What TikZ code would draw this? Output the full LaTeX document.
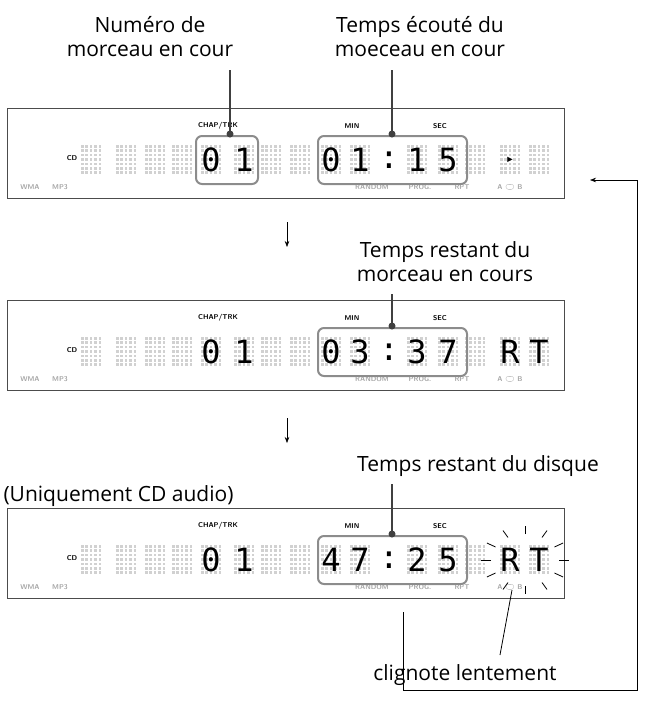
\documentclass[tikz,border=0pt]{standalone}
\usepackage{fontspec}
\setmainfont{Open Sans}
\newfontfamily\lcdfont{DejaVu Sans Mono}
\usetikzlibrary{arrows.meta,calc}

\tikzset{
  label/.style={font=\fontsize{21}{24}\selectfont, align=center},
  tag/.style={font=\sffamily\bfseries\fontsize{7}{8}\selectfont, inner sep=0pt},
  dimtag/.style={tag, text=black!35},
  digit/.style={font=\lcdfont\fontsize{32}{32}\selectfont, inner sep=0pt},
  panel/.style={draw=black!70, line width=0.8pt},
  frame/.style={draw=black!45, line width=2pt, rounded corners=6pt},
  lead/.style={draw=black!75, line width=2pt},
  flow/.style={-{Stealth[length=6pt]}, line width=0.6pt},
}
% one dot-matrix cell (5x7), centered at #1,#2
\newcommand\dotcell[2]{%
  \foreach \i in {0,...,4}{\foreach \j in {0,...,6}{%
    \fill[black!18] ({#1-10+\i*4.4},{#2-15+\j*4.4}) rectangle ++(2.6,2.6);}}}
% one display panel, top edge at #1
\newcommand\display[1]{%
  \draw[panel] (7,#1) rectangle (564,#1+90);
  \node[tag] at (72,#1+50) {CD};
  \node[tag] at (218,#1+18) {CHAP/TRK};
  \node[tag] at (352,#1+18) {MIN};
  \node[tag] at (440,#1+18) {SEC};
  \node[dimtag] at (30,#1+79) {WMA};
  \node[dimtag] at (60,#1+79) {MP3};
  \node[dimtag] at (372,#1+79) {RANDOM};
  \node[dimtag] at (420,#1+79) {PROG.};
  \node[dimtag] at (462,#1+79) {RPT};
  \node[dimtag] at (510,#1+79) {A {\normalfont\fontsize{9}{9}\selectfont$\subset\!\!\!\supset$} B};
  \foreach \x in {91,126,155,182,211,244,271,300,331,360,417,448,475,510,539}{\dotcell{\x}{#1+52}}
}

\begin{document}
\begin{tikzpicture}[x=1pt,y=-1pt]
\useasboundingbox (0,0) rectangle (645,707);

% panel 1
\display{108}
\node[digit] (t1a) at (211,160) {0};
\node[digit] (t1b) at (244,160) {1};
\node[digit] (m1a) at (331,160) {0};
\node[digit] (m1b) at (360,160) {1};
\node[digit] (c1) at (389,160) {:};
\node[digit] (s1a) at (417,160) {1};
\node[digit] (s1b) at (448,160) {5};
\node[font=\fontsize{14}{14}\selectfont\lcdfont] (play) at (510,160) {▸};
\draw[frame] (196,136) rectangle (258,184);
\draw[frame] (318,136) rectangle (467,184);
\node[label] (num) at (150,37) {Numéro de\\morceau en cour};
\node[label] (ecoute) at (420,37) {Temps écouté du\\moeceau en cour};
\coordinate (d1) at (230,134);
\coordinate (d2) at (392,134);
\draw[lead] (230,70) -- (d1);
\draw[lead] (392,70) -- (d2);
\fill[black!75] (d1) circle (3.5) (d2) circle (3.5);

% panel 2
\coordinate (a1) at (287,222);
\coordinate (a2) at (287,247);
\draw[flow] (a1) -- (a2);
\display{300}
\node[digit] (t2a) at (211,352) {0};
\node[digit] (t2b) at (244,352) {1};
\node[digit] (m2a) at (331,352) {0};
\node[digit] (m2b) at (360,352) {3};
\node[digit] (c2) at (389,352) {:};
\node[digit] (s2a) at (417,352) {3};
\node[digit] (s2b) at (448,352) {7};
\node[digit] (r2) at (510,352) {R};
\node[digit] (q2) at (539,352) {T};
\draw[frame] (318,328) rectangle (467,376);
\node[label] (reste) at (445,262) {Temps restant du\\morceau en cours};
\coordinate (d3) at (392,326);
\draw[lead] (392,294) -- (d3);
\fill[black!75] (d3) circle (3.5);

% panel 3
\coordinate (a3) at (287,418);
\coordinate (a4) at (287,443);
\draw[flow] (a3) -- (a4);
\node[label, anchor=west] (cd) at (0,496) {(Uniquement CD audio)};
\display{508}
\node[digit] (t3a) at (211,560) {0};
\node[digit] (t3b) at (244,560) {1};
\node[digit] (m3a) at (331,560) {4};
\node[digit] (m3b) at (360,560) {7};
\node[digit] (c3) at (389,560) {:};
\node[digit] (s3a) at (417,560) {2};
\node[digit] (s3b) at (448,560) {5};
\node[digit] (r3) at (510,560) {R};
\node[digit] (q3) at (539,560) {T};
\draw[frame] (318,536) rectangle (467,584);
\node[label] (disque) at (478,466) {Temps restant du disque};
\coordinate (d4) at (392,534);
\draw[lead] (392,484) -- (d4);
\fill[black!75] (d4) circle (3.5);
% blinking rays
\foreach \a in {0,30,60,90,120,150,180,210,240,270,300,330}{
  \draw[line width=0.8pt] ($(525,560)+(\a:34 and 26)$) -- ($(525,560)+(\a:44 and 34)$);}
\node[label] (clig) at (465,675) {clignote lentement};
\coordinate (c0) at (512,590);
\draw[line width=0.8pt] (500,655) -- (c0);

% return loop
\coordinate (r1) at (403,612);
\coordinate (r2) at (590,180);
\draw[flow] (r1) |- (637,690) |- (r2);
\end{tikzpicture}
\end{document}
